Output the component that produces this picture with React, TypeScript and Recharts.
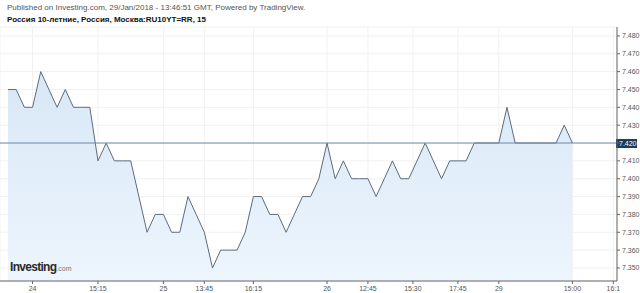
import React from "react";
import { ComposedChart, Area, XAxis, YAxis, CartesianGrid, ReferenceLine } from "recharts";

// 15-minute bars, RU10YT=RR
const yields = [
  7.45, 7.45, 7.44, 7.44, 7.46, 7.45, 7.44, 7.45, 7.44, 7.44,
  7.44, 7.41, 7.42, 7.41, 7.41, 7.41, 7.39, 7.37, 7.38, 7.38,
  7.37, 7.37, 7.39, 7.38, 7.37, 7.35, 7.36, 7.36, 7.36, 7.37,
  7.39, 7.39, 7.38, 7.38, 7.37, 7.38, 7.39, 7.39, 7.4, 7.42,
  7.4, 7.41, 7.4, 7.4, 7.4, 7.39, 7.4, 7.41, 7.4, 7.4,
  7.41, 7.42, 7.41, 7.4, 7.41, 7.41, 7.41, 7.42, 7.42, 7.42,
  7.42, 7.44, 7.42, 7.42, 7.42, 7.42, 7.42, 7.42, 7.43, 7.42,
];

const xTickIdx = [3, 11, 19, 24, 30, 39, 44, 49.5, 55, 60, 69, 74];
const xTickLabels = ["24", "15:15", "25", "13:45", "16:15", "26", "12:45", "15:30", "17:45", "29", "15:00", "16:1"];

const yTicks = [7.35, 7.36, 7.37, 7.38, 7.39, 7.4, 7.41, 7.42, 7.43, 7.44, 7.45, 7.46, 7.47, 7.48];
const lastValue = 7.42;

const data = yields.map((v, i) => ({ i, v }));

const font = "'Liberation Sans', Arial, sans-serif";

function LastLabel(props: any) {
  const vb = props.viewBox || {};
  const x = vb.x + vb.width;
  const y = vb.y;
  return (
    <g>
      <rect x={x - 1} y={y - 4} width={21} height={9} fill="#1b3a5c" />
      <text x={x + 2} y={y + 3} fontSize={7} fill="#fff" fontFamily={font}>
        {lastValue.toFixed(3)}
      </text>
    </g>
  );
}

export default function App() {
  return (
    <div style={{ position: "relative", width: 640, height: 293, background: "#fff", fontFamily: font }}>
      <style>{`body{margin:0}`}</style>
      <div style={{ position: "absolute", left: 7, top: 3, fontSize: 8, color: "#555" }}>
        Published on Investing.com, 29/Jan/2018 - 13:46:51 GMT, Powered by TradingView.
      </div>
      <div style={{ position: "absolute", left: 7, top: 15, fontSize: 8, fontWeight: "bold", color: "#111" }}>
        Россия 10-летние, Россия, Москва:RU10YT=RR, 15
      </div>

      <ComposedChart width={640} height={293} data={data} margin={{ top: 27, right: 0, bottom: 0, left: 0 }}>
        <defs>
          <linearGradient id="fillArea" x1="0" y1="0" x2="0" y2="1">
            <stop offset="0%" stopColor="#d8e7f6" />
            <stop offset="100%" stopColor="#edf5fd" />
          </linearGradient>
        </defs>
        <CartesianGrid stroke="#f1f1f1" />
        <XAxis
          dataKey="i"
          type="number"
          domain={[-0.98, 74.45]}
          ticks={xTickIdx}
          tickFormatter={(v: number) => xTickLabels[xTickIdx.indexOf(v)]}
          height={12}
          tickSize={3}
          stroke="#666"
          tick={{ fontSize: 7, fill: "#555", fontFamily: font }}
          interval={0}
          allowDataOverflow
        />
        <YAxis
          orientation="right"
          type="number"
          domain={[7.3427, 7.485]}
          ticks={yTicks}
          tickFormatter={(v: number) => (Math.abs(v - lastValue) < 1e-6 ? "" : v.toFixed(3))}
          width={23}
          tickSize={3}
          stroke="#666"
          tick={{ fontSize: 7, fill: "#555", fontFamily: font }}
          interval={0}
          allowDataOverflow
        />
        <Area
          type="linear"
          dataKey="v"
          stroke="#5b6c7e"
          strokeWidth={1}
          fill="url(#fillArea)"
          fillOpacity={1}
          baseValue="dataMin"
          isAnimationActive={false}
          dot={false}
          activeDot={false}
        />
        <ReferenceLine y={lastValue} stroke="#6f8aa5" strokeWidth={1} label={<LastLabel />} />
      </ComposedChart>

      <div style={{ position: "absolute", left: 10, top: 260, color: "#2b2b2b", fontWeight: "bold", fontSize: 12, letterSpacing: -0.7 }}>
        Investing<span style={{ fontSize: 7, fontWeight: "normal", color: "#777", letterSpacing: 0 }}>.com</span>
      </div>
    </div>
  );
}
